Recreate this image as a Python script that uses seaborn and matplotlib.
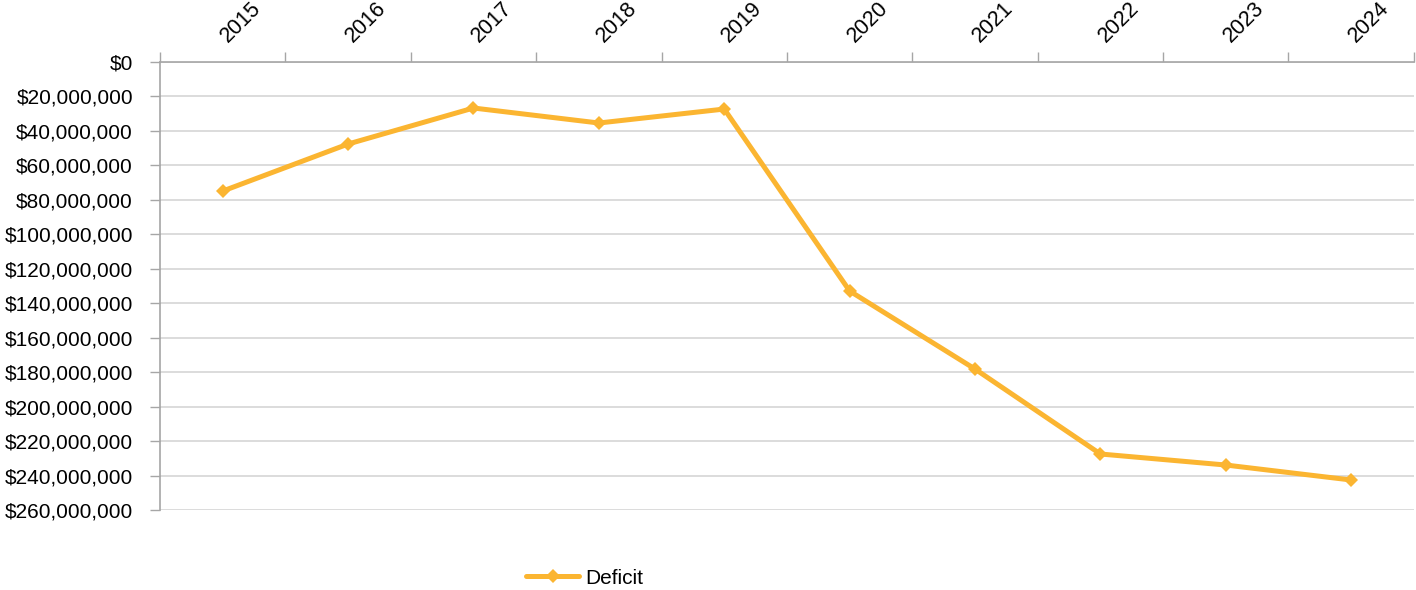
import pandas as pd
import numpy as np
import matplotlib

matplotlib.use("Agg")
import matplotlib.pyplot as plt
import seaborn as sns
from matplotlib.ticker import FuncFormatter, FixedLocator

# values (deficit, dollars)
years = ["2015", "2016", "2017", "2018", "2019", "2020", "2021", "2022", "2023", "2024"]
deficit = [74.9e6, 47.6e6, 26.7e6, 35.4e6, 27.3e6, 132.9e6, 178.2e6, 227.5e6, 233.9e6, 242.6e6]
y_ticks = list(range(0, 260_000_001, 20_000_000))

line_color = "#FBB531"
grid_color = "#D9D9D9"
axis_color = "#A6A6A6"

sns.set_style("white")
plt.rcParams["font.family"] = ["Liberation Sans", "DejaVu Sans"]
plt.rcParams["text.color"] = "black"

df = pd.DataFrame({"Year": years, "Deficit": deficit})

fig = plt.figure(figsize=(14.16, 5.9), dpi=100)
ax = fig.add_axes([0.113, 0.1356, 0.8855, 0.7593])

sns.lineplot(
    data=df, x="Year", y="Deficit", ax=ax, color=line_color,
    linewidth=3.6, marker="D", markersize=7, markeredgewidth=0,
    label="Deficit", sort=False,
)

# inverted value axis, category axis on top
ax.set_ylim(260_000_000, 0)
ax.yaxis.set_major_locator(FixedLocator(y_ticks))
ax.yaxis.set_major_formatter(FuncFormatter(lambda v, p: f"${v:,.0f}"))
ax.set_xlim(-0.5, len(years) - 0.5)
ax.xaxis.tick_top()
# label anchors sit a touch left of each category centre (major ticks are hidden)
ax.set_xticks(np.arange(len(years)) - 0.05)
ax.set_xticklabels(years, rotation=45, ha="left", va="bottom")
ax.set_xticks(np.arange(-0.5, len(years)), minor=True)
ax.set_xlabel("")
ax.set_ylabel("")

ax.grid(axis="y", color=grid_color, linewidth=1.3)
ax.set_axisbelow(True)
for side in ["right", "bottom"]:
    ax.spines[side].set_visible(False)
for side in ["top", "left"]:
    ax.spines[side].set_color(axis_color)
    ax.spines[side].set_linewidth(1.2)

ax.tick_params(axis="y", which="major", left=True, length=7, width=1,
               color=axis_color, labelsize=15, labelcolor="black", pad=12.5)
ax.tick_params(axis="x", which="major", top=False, length=0, labelsize=15.5,
               labelcolor="black", pad=11)
ax.tick_params(axis="x", which="minor", top=True, length=7, width=1, color=axis_color)

ax.get_legend().remove()
handles, labels = ax.get_legend_handles_labels()
fig.legend(handles, labels, loc="center", bbox_to_anchor=(0.413, 0.02),
           frameon=False, fontsize=15, handlelength=2.55, handletextpad=0.3,
           labelcolor="black")

fig.savefig("out.png", dpi=100)
plt.close(fig)
